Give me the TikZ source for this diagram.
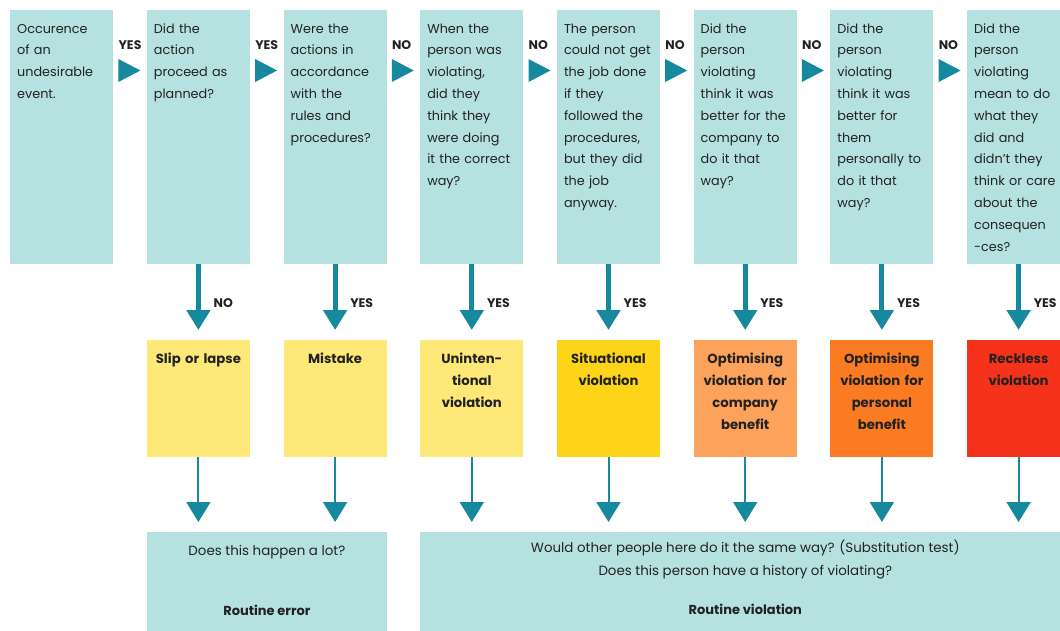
\documentclass[tikz,border=0pt]{standalone}
\usepackage{fontspec}
\setmainfont{Poppins}
\usetikzlibrary{arrows.meta,calc}
\definecolor{boxteal}{HTML}{B5E1E0}
\definecolor{arrteal}{HTML}{16899F}
\definecolor{ylight}{HTML}{FDE878}
\definecolor{ygold}{HTML}{FDD417}
\definecolor{olight}{HTML}{FCA25B}
\definecolor{oorange}{HTML}{FB7B22}
\definecolor{rred}{HTML}{F7321B}
\definecolor{ink}{HTML}{222222}
\begin{document}
\begin{tikzpicture}[x=1pt,y=-1pt,
 qbox/.style={rectangle, fill=boxteal, draw=none, inner sep=0pt, minimum width=103pt, minimum height=254pt, anchor=north west},
 cbox/.style={rectangle, draw=none, inner sep=0pt, minimum width=103pt, minimum height=117pt, anchor=north west},
 rbox/.style={rectangle, fill=boxteal, draw=none, inner sep=0pt, minimum height=100pt, anchor=north west},
 qtext/.style={anchor=north west, inner sep=0pt, text width=98pt, align=left, font=\fontsize{12.8}{21.8}\selectfont, text=ink, execute at begin node=\strut},
 ctext/.style={anchor=north, inner sep=0pt, text width=102pt, align=center, font=\fontsize{13.2}{22}\selectfont\bfseries, text=ink, execute at begin node=\strut},
 rtext/.style={anchor=north, inner sep=0pt, align=center, font=\fontsize{13.4}{23}\selectfont, text=ink, execute at begin node=\strut},
 rhead/.style={anchor=north, inner sep=0pt, align=center, font=\fontsize{13}{23}\selectfont\bfseries, text=ink, execute at begin node=\strut},
 lab/.style={anchor=west, inner sep=0pt, font=\fontsize{12.5}{14}\selectfont\bfseries, text=ink},
 tri/.style={fill=arrteal},
 bigarrow/.style={draw=arrteal, line width=5pt, -{Triangle[length=20pt,width=23pt]}},
 smallarrow/.style={draw=arrteal, line width=2pt, -{Triangle[length=20pt,width=24pt]}},
]
\useasboundingbox (0,0) rectangle (1060,630);
\clip (0,0) rectangle (1060,630);

% question boxes
\node[qbox] (b1) at (10,10) {};
\node[qbox] (b2) at (146.7,10) {};
\node[qbox] (b3) at (283.4,10) {};
\node[qbox] (b4) at (420.1,10) {};
\node[qbox] (b5) at (556.8,10) {};
\node[qbox] (b6) at (693.5,10) {};
\node[qbox] (b7) at (830.2,10) {};
\node[qbox] (b8) at (966.9,10) {};

\node[qtext] (t1) at ([shift={(7pt,-7.6pt)}]b1.north west) {Occurence\\of an\\undesirable\\event.};
\node[qtext] (t2) at ([shift={(7pt,-7.6pt)}]b2.north west) {Did the\\action\\proceed as\\planned?};
\node[qtext] (t3) at ([shift={(7pt,-7.6pt)}]b3.north west) {Were the\\actions in\\accordance\\with the\\rules and\\procedures?};
\node[qtext] (t4) at ([shift={(7pt,-7.6pt)}]b4.north west) {When the\\person was\\violating,\\did they\\think they\\were doing\\it the correct\\way?};
\node[qtext] (t5) at ([shift={(7pt,-7.6pt)}]b5.north west) {The person\\could not get\\the job done\\if they\\followed the\\procedures,\\but they did\\the job\\anyway.};
\node[qtext] (t6) at ([shift={(7pt,-7.6pt)}]b6.north west) {Did the\\person\\violating\\think it was\\better for the\\company to\\do it that\\way?};
\node[qtext] (t7) at ([shift={(7pt,-7.6pt)}]b7.north west) {Did the\\person\\violating\\think it was\\better for\\them\\personally to\\do it that\\way?};
\node[qtext] (t8) at ([shift={(7pt,-7.6pt)}]b8.north west) {Did the\\person\\violating\\mean to do\\what they\\did and\\didn't they\\think or care\\about the\\consequen\\-ces?};

% horizontal triangles and labels
\foreach \i/\j/\w in {1/2/YES,2/3/YES,3/4/NO,4/5/NO,5/6/NO,6/7/NO,7/8/NO}{
  \fill[tri] ([shift={(5pt,-49pt)}]b\i.north east) -- ++(22,11.5) -- ++(-22,11.5) -- cycle;
  \node[lab] (h\i) at ([shift={(5pt,-35pt)}]b\i.north east) {\w};
}

% outcome boxes
\node[cbox, fill=ylight] (c2) at (146.7,340) {};
\node[cbox, fill=ylight] (c3) at (283.4,340) {};
\node[cbox, fill=ylight] (c4) at (420.1,340) {};
\node[cbox, fill=ygold] (c5) at (556.8,340) {};
\node[cbox, fill=olight] (c6) at (693.5,340) {};
\node[cbox, fill=oorange] (c7) at (830.2,340) {};
\node[cbox, fill=rred] (c8) at (966.9,340) {};

\node[ctext] (d2) at ([yshift=-7.6pt]c2.north) {Slip or lapse};
\node[ctext] (d3) at ([yshift=-7.6pt]c3.north) {Mistake};
\node[ctext] (d4) at ([yshift=-7.6pt]c4.north) {Uninten-\\tional\\violation};
\node[ctext] (d5) at ([yshift=-7.6pt]c5.north) {Situational\\violation};
\node[ctext] (d6) at ([yshift=-7.6pt]c6.north) {Optimising\\violation for\\company\\benefit};
\node[ctext] (d7) at ([yshift=-7.6pt]c7.north) {Optimising\\violation for\\personal\\benefit};
\node[ctext] (d8) at ([yshift=-7.6pt]c8.north) {Reckless\\violation};

% vertical arrows and labels
\foreach \i/\w in {2/NO,3/YES,4/YES,5/YES,6/YES,7/YES,8/YES}{
  \draw[bigarrow] (b\i.south) -- ([yshift=10pt]c\i.north);
  \node[lab] (v\i) at ([shift={(15pt,-39pt)}]b\i.south) {\w};
}

% routine boxes
\node[rbox, minimum width=240pt] (r1) at (146.7,532) {};
\node[rbox, minimum width=650pt] (r2) at (420.1,532) {};

\node[rtext] (s1) at ([yshift=-7.6pt]r1.north) {Does this happen a lot?};
\node[rhead] (s1b) at ([yshift=-67.6pt]r1.north) {Routine error};
\node[rtext] (s2) at ([yshift=-7.6pt]r2.north) {Would other people here do it the same way? (Substitution test)\\Does this person have a history of violating?};
\node[rhead] (s2b) at ([yshift=-66.6pt]r2.north) {Routine violation};

% bottom arrows
\foreach \i/\r in {2/r1,3/r1,4/r2,5/r2,6/r2,7/r2,8/r2}{
  \coordinate (e\i) at (c\i.south |- \r.north);
  \draw[smallarrow] (c\i.south) -- ([yshift=10pt]e\i);
}
\end{tikzpicture}
\end{document}
